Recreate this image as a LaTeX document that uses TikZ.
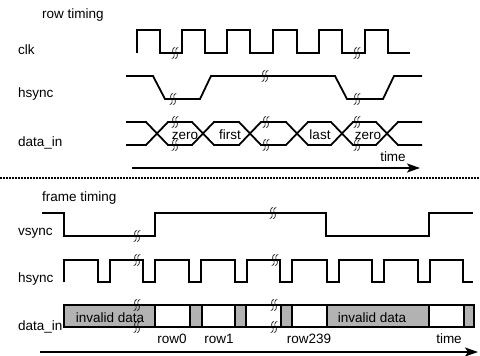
\documentclass[tikz,border=0pt]{standalone}
\usepackage{fontspec}
\setmainfont{Liberation Sans}
\usetikzlibrary{arrows.meta}

\begin{document}
\begin{tikzpicture}[x=1pt,y=-1pt,line join=miter,
  sig/.style={line width=1.8pt},
  lbl/.style={anchor=base west,inner sep=0pt,font=\fontsize{13.5}{16}\selectfont},
  txt/.style={anchor=base,inner sep=0pt,font=\fontsize{13.5}{16}\selectfont},
  cell/.style={line width=1.8pt,draw=black},
  timeaxis/.style={line width=1.8pt,-{Stealth[length=13pt,width=9pt,inset=3pt]}},
  brk/.pic={\foreach \d in {-1.6,1.6}
    \draw[line width=0.6pt] (\d+1.6,-5.5) .. controls (\d-1.2,-5.5) and (\d-1.2,-1) .. (\d,0)
      .. controls (\d+1.2,1) and (\d+1.2,5.5) .. (\d-1.6,5.5);}]
\useasboundingbox (0,0) rectangle (480,356);

% row timing
\node[lbl] (rowtitle) at (42,19) {row timing};
\node[lbl] (clklbl) at (18,54) {clk};
\node[lbl] (hsynclbl) at (18,97) {hsync};
\node[lbl] (datalbl) at (18,146) {data\_in};

\draw[sig](137,53)--(137,30)--(160,30)--(160,53)--(182,53)--(182,30)--(205,30)--(205,53)
--(227,53)--(227,30)--(250,30)--(250,53)--(273,53)--(273,30)--(297,30)--(297,53)
--(319,53)--(319,30)--(342,30)--(342,53)--(365,53)--(365,30)--(388,30)--(388,53)--(410,53);
\draw[sig](126,76)--(153,76)--(165,99)--(200,99)--(211,76)--(335,76)--(347,99)--(383,99)--(394,76)--(422,76);
\draw[sig](126,122)--(146,122)--(168,145)--(192,145)--(214,122)--(239,122)--(261,145)--(286,145)
--(308,122)--(331,122)--(353,145)--(376,145)--(398,122)--(422,122);
\draw[sig](126,145)--(146,145)--(168,122)--(192,122)--(214,145)--(239,145)--(261,122)--(286,122)
--(308,145)--(331,145)--(353,122)--(376,122)--(398,145)--(422,145);
\node[txt] (zero1) at (185,139) {zero};
\node[txt] (first) at (230,139) {first};
\node[txt] (last) at (320,139) {last};
\node[txt] (zero2) at (368,139) {zero};
\foreach \p in {(175,53),(357,53),(173,99),(265,76),(357,99),
  (175,122),(175,145),(266,122),(266,145),(357,122),(357,145)}
  \pic at \p {brk};

\coordinate (rowt0) at (132,168);
\coordinate (rowt1) at (420,168);
\draw[timeaxis](rowt0)--(rowt1);
\node[txt] (rowtime) at (393,161) {time};

\draw[line width=1.5pt,dash pattern=on 1.5pt off 1.5pt](0,178)--(480,178);

% frame timing
\node[lbl] (frametitle) at (42,201) {frame timing};
\node[lbl] (vsynclbl) at (18,235) {vsync};
\node[lbl] (fhsynclbl) at (18,282) {hsync};
\node[lbl] (fdatalbl) at (18,330) {data\_in};

\draw[sig](42,213)--(64,213)--(64,236)--(155,236)--(155,213)--(326,213)--(326,236)--(429,236)--(429,213)--(473,213);
\draw[sig](64,282)--(64,260)
  \foreach \p in {98,143,189,235,280,327,372,418}{--(\p,260)--(\p,282)--(\p+12,282)--(\p+12,260)}
  --(463,260)--(463,282)--(473,282);

\foreach \a/\b in {64/155,190/202,235/246,281/292,327/429,464/474}
  \draw[cell,fill=black!30] (\a,305) rectangle (\b,327);
\foreach \a/\b in {155/190,202/235,246/281,292/327,429/464}
  \draw[cell,fill=white] (\a,305) rectangle (\b,327);
\node[txt] (inv1) at (110,322) {invalid data};
\node[txt] (inv2) at (372,322) {invalid data};
\node[txt] (row0) at (172,343) {row0};
\node[txt] (row1) at (219,343) {row1};
\node[txt] (row239) at (309,343) {row239};
\node[txt] (frametime) at (449,343) {time};
\foreach \p in {(137,236),(273,213),(137,260),(275,260),
  (137,305),(137,327),(274,305),(274,327)}
  \pic at \p {brk};

\coordinate (frmt0) at (40,352);
\coordinate (frmt1) at (478,352);
\draw[timeaxis](frmt0)--(frmt1);
\end{tikzpicture}
\end{document}
